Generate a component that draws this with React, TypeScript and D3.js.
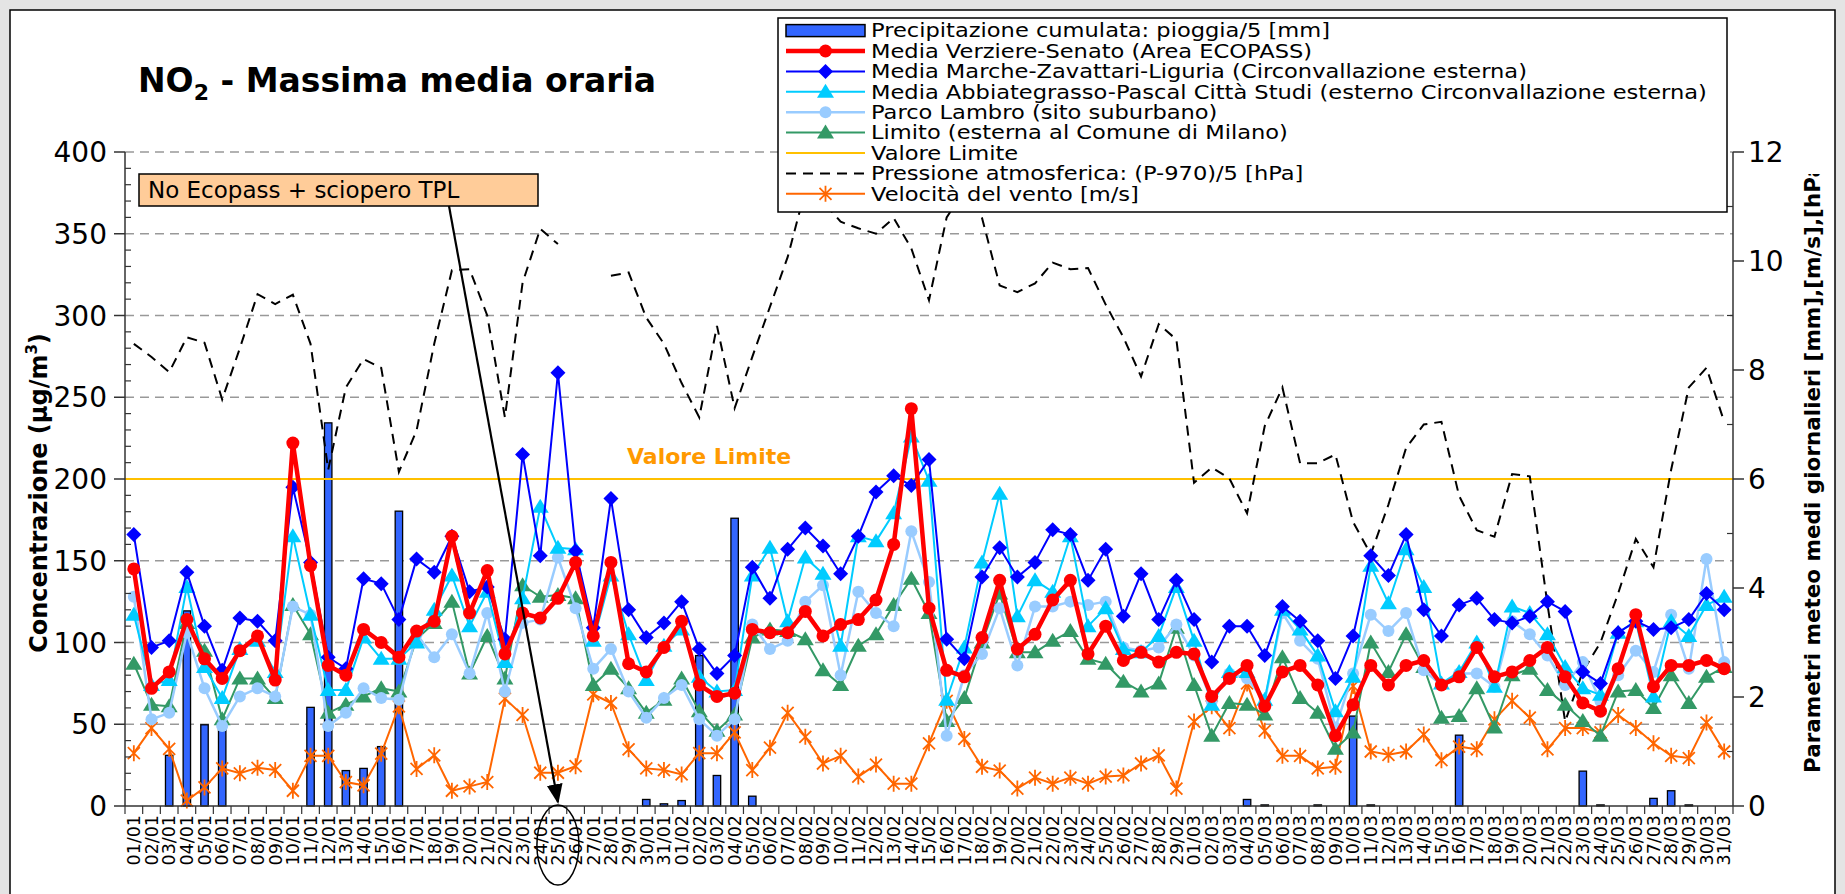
import React from "react";
import * as d3 from "d3";

// day labels shown on the category axis
const dates = [
  "01/01", "02/01", "03/01", "04/01", "05/01", "06/01", "07/01", "08/01", "09/01", "10/01",
  "11/01", "12/01", "13/01", "14/01", "15/01", "16/01", "17/01", "18/01", "19/01", "20/01",
  "21/01", "22/01", "23/01", "24/01", "25/01", "26/01", "27/01", "28/01", "29/01", "30/01",
  "31/01", "01/02", "02/02", "03/02", "04/02", "05/02", "06/02", "07/02", "08/02", "09/02",
  "10/02", "11/02", "12/02", "13/02", "14/02", "15/02", "16/02", "17/02", "18/02", "19/02",
  "20/02", "21/02", "22/02", "23/02", "24/02", "25/02", "26/02", "27/02", "28/02", "29/02",
  "01/03", "02/03", "03/03", "04/03", "05/03", "06/03", "07/03", "08/03", "09/03", "10/03",
  "11/03", "12/03", "13/03", "14/03", "15/03", "16/03", "17/03", "18/03", "19/03", "20/03",
  "21/03", "22/03", "23/03", "24/03", "25/03", "26/03", "27/03", "28/03", "29/03", "30/03",
  "31/03",
];

// precipitazione (pioggia/5, right axis)
const rain = [
  0, 0, 0.93, 3.58, 1.49, 1.41, 0, 0, 0, 0,
  1.81, 7.03, 0.65, 0.69, 1.09, 5.41, 0, 0, 0, 0,
  0, 0, 0, 0, 0, 0, 0, 0, 0, 0.12,
  0.04, 0.1, 2.76, 0.56, 5.28, 0.18, 0, 0, 0, 0,
  0, 0, 0, 0, 0, 0, 0, 0, 0, 0,
  0, 0, 0, 0, 0, 0, 0, 0, 0, 0,
  0, 0, 0, 0.12, 0.02, 0, 0, 0.02, 0, 1.65,
  0.02, 0, 0, 0, 0, 1.3, 0, 0, 0, 0,
  0, 0, 0.64, 0.02, 0, 0, 0.14, 0.28, 0.02, 0,
  0,
];

// NO2 series (left axis, ug/m3)
const verziere = [
  145, 72, 82, 114, 90, 78, 95, 104, 77, 222,
  147, 86, 80, 108, 100, 91, 107, 113, 165, 118,
  144, 93, 118, 115, 127, 149, 104, 149, 87, 82,
  97, 113, 74, 67, 69, 108, 106, 106, 119, 104,
  111, 114, 126, 160, 243, 121, 83, 79, 103, 138,
  96, 105, 126, 138, 93, 110, 89, 94, 88, 94,
  93, 67, 78, 86, 61, 82, 86, 74, 43, 62,
  86, 74, 86, 89, 74, 79, 97, 79, 82, 89,
  97, 79, 63, 58, 84, 117, 73, 86, 86, 89,
  84,
];
const marche = [
  166, 97, 101, 143, 110, 83, 115, 113, 101, 195,
  149, 91, 84, 139, 136, 114, 151, 143, 165, 131,
  134, 102, 215, 153, 265, 156, 109, 188, 120, 103,
  112, 125, 96, 81, 92, 146, 127, 157, 170, 159,
  142, 165, 192, 202, 196, 212, 102, 90, 140, 158,
  140, 149, 169, 166, 138, 157, 116, 142, 114, 138,
  114, 88, 110, 110, 92, 122, 113, 101, 78, 104,
  153, 141, 166, 120, 104, 123, 127, 114, 112, 116,
  125, 119, 82, 75, 106, 113, 108, 109, 114, 130,
  120,
];
const abbiategrasso = [
  117, 74, 77, 134, 85, 66, 96, 101, 82, 165,
  117, 71, 71, 103, 90, 90, 100, 120, 141, 110,
  131, 88, 127, 183, 158, 157, 101, 141, 105, 77,
  98, 108, 79, 70, 71, 141, 158, 113, 152, 142,
  98, 165, 162, 179, 226, 199, 65, 97, 149, 191,
  116, 138, 131, 165, 110, 121, 96, 94, 104, 134,
  101, 62, 82, 82, 65, 120, 108, 92, 58, 79,
  147, 124, 157, 134, 75, 82, 100, 73, 122, 118,
  105, 85, 72, 68, 106, 113, 67, 113, 104, 123,
  128,
];
const lambro = [
  128, 53, 57, 106, 72, 49, 67, 72, 67, 122,
  117, 49, 57, 72, 66, 65, 105, 91, 105, 81,
  118, 70, 112, 114, 152, 121, 84, 96, 70, 54,
  66, 74, 53, 43, 53, 111, 96, 101, 125, 135,
  80, 131, 118, 110, 168, 137, 43, 80, 93, 121,
  86, 122, 122, 125, 123, 125, 97, 95, 97, 111,
  92, 64, 81, 78, 64, 118, 101, 90, 48, 81,
  117, 107, 118, 83, 74, 81, 81, 73, 113, 105,
  92, 74, 88, 64, 80, 95, 82, 117, 84, 151,
  88,
];
const limito = [
  87, 62, 61, 112, 95, 53, 78, 78, 66, 123,
  105, 57, 62, 67, 72, 70, 102, 112, 125, 81,
  104, 78, 135, 128, 129, 127, 74, 84, 72, 57,
  65, 78, 58, 46, 56, 103, 108, 107, 102, 83,
  74, 98, 105, 123, 139, 118, 52, 66, 100, 130,
  94, 94, 101, 107, 90, 87, 76, 70, 75, 109,
  74, 43, 63, 62, 56, 91, 66, 57, 35, 45,
  100, 82, 105, 85, 54, 55, 72, 48, 80, 84,
  71, 62, 52, 43, 70, 71, 60, 80, 63, 79,
  85,
];

// meteo (right axis)
const pressure: (number | null)[] = [
  8.48, 8.24, 7.96, 8.6, 8.5, 7.46, 8.4, 9.39, 9.21, 9.38,
  8.48, 6.17, 7.68, 8.2, 8.04, 6.13, 6.89, 8.48, 9.83, 9.85,
  9.0, 7.13, 9.6, 10.59, 10.31, null, null, 9.73, 9.79, 8.96,
  8.48, 7.76, 7.13, 8.81, 7.3, 8.24, 9.16, 10.07, 11.3, 11.1,
  10.72, 10.6, 10.5, 10.79, 10.23, 9.28, 10.8, 11.3, 10.79, 9.55,
  9.43, 9.59, 9.97, 9.85, 9.87, 9.2, 8.6, 7.88, 8.84, 8.56,
  5.93, 6.21, 6.01, 5.37, 6.97, 7.68, 6.29, 6.29, 6.45, 5.21,
  4.62, 5.53, 6.57, 7.0, 7.05, 5.69, 5.06, 4.94, 6.09, 6.05,
  3.7, 1.55, 2.47, 3.0, 3.9, 4.9, 4.38, 6.17, 7.68, 8.04,
  7.05,
];
const wind = [
  0.97, 1.43, 1.05, 0.1, 0.34, 0.69, 0.6, 0.7, 0.66, 0.28,
  0.92, 0.92, 0.44, 0.38, 0.96, 1.83, 0.68, 0.93, 0.28, 0.36,
  0.44, 1.97, 1.67, 0.61, 0.61, 0.73, 2.05, 1.89, 1.04, 0.69,
  0.66, 0.58, 0.97, 0.97, 1.35, 0.66, 1.07, 1.71, 1.27, 0.78,
  0.92, 0.54, 0.76, 0.41, 0.41, 1.15, 1.93, 1.23, 0.72, 0.65,
  0.32, 0.52, 0.41, 0.52, 0.41, 0.54, 0.56, 0.78, 0.93, 0.32,
  1.55, 1.83, 1.43, 2.25, 1.38, 0.92, 0.92, 0.69, 0.72, 2.2,
  1.0, 0.94, 1.0, 1.31, 0.84, 1.09, 1.04, 1.59, 1.93, 1.62,
  1.04, 1.43, 1.43, 1.35, 1.67, 1.43, 1.15, 0.92, 0.88, 1.53,
  1.0,
];

const limitValue = 200;
const leftTicks = [0, 50, 100, 150, 200, 250, 300, 350, 400];
const rightTicks = [0, 2, 4, 6, 8, 10, 12];

const legendLabels = [
  "Precipitazione cumulata: pioggia/5 [mm]",
  "Media Verziere-Senato (Area ECOPASS)",
  "Media Marche-Zavattari-Liguria (Circonvallazione esterna)",
  "Media Abbiategrasso-Pascal Città Studi (esterno Circonvallazione esterna)",
  "Parco Lambro (sito suburbano)",
  "Limito (esterna al Comune di Milano)",
  "Valore Limite",
  "Pressione atmosferica: (P-970)/5 [hPa]",
  "Velocità del vento [m/s]",
];

const FONT = "'DejaVu Sans', Verdana, sans-serif";

function Marker({ kind, color, x, y }: { kind: string; color: string; x: number; y: number }) {
  if (kind === "circle") return <circle cx={x} cy={y} r={6} fill={color} />;
  if (kind === "bigcircle") return <circle cx={x} cy={y} r={6.5} fill={color} />;
  if (kind === "diamond")
    return <path d={`M${x},${y - 7.5}L${x + 7.5},${y}L${x},${y + 7.5}L${x - 7.5},${y}Z`} fill={color} />;
  if (kind === "triangle")
    return <path d={`M${x},${y - 8}L${x + 8.5},${y + 6}L${x - 8.5},${y + 6}Z`} fill={color} />;
  if (kind === "star")
    return (
      <path
        d={`M${x - 6},${y - 6}L${x + 6},${y + 6}M${x + 6},${y - 6}L${x - 6},${y + 6}M${x},${y - 8}L${x},${y + 8}`}
        stroke={color}
        strokeWidth={1.8}
        fill="none"
      />
    );
  return null;
}

export default function App() {
  const W = 1845;
  const H = 894;
  const left = 125;
  const right = 1733;
  const top = 152;
  const bottom = 806;

  const x = d3.scaleBand<string>().domain(dates).range([left, right]);
  const bw = x.bandwidth();
  const cx = (i: number) => (x(dates[i]) as number) + bw / 2;
  const y = d3.scaleLinear().domain([0, 400]).range([bottom, top]);
  const y2 = d3.scaleLinear().domain([0, 12]).range([bottom, top]);

  const lineL = d3
    .line<number>()
    .x((_, i) => cx(i))
    .y((d) => y(d));
  const lineR = d3
    .line<number | null>()
    .defined((d) => d != null)
    .x((_, i) => cx(i))
    .y((d) => y2(d as number));

  const no2 = [
    { data: limito, color: "#339966", width: 2, marker: "triangle" },
    { data: lambro, color: "#99ccff", width: 2.5, marker: "circle" },
    { data: abbiategrasso, color: "#00ccff", width: 2, marker: "triangle" },
    { data: marche, color: "#0000ff", width: 2, marker: "diamond" },
    { data: verziere, color: "#ff0000", width: 4.5, marker: "bigcircle" },
  ];

  const minorLeft = d3.range(10, 400, 10).filter((v) => v % 50 !== 0);
  const minorRight = d3.range(1, 12, 2);

  const legendX0 = 786;
  const legendX1 = 865;
  const legendRowY = (i: number) => 30.6 + i * 20.4;
  const legendSymbols = [
    { kind: "bar" },
    { kind: "line", color: "#ff0000", width: 4.5, marker: "bigcircle" },
    { kind: "line", color: "#0000ff", width: 2, marker: "diamond" },
    { kind: "line", color: "#00ccff", width: 2, marker: "triangle" },
    { kind: "line", color: "#99ccff", width: 2.5, marker: "circle" },
    { kind: "line", color: "#339966", width: 2, marker: "triangle" },
    { kind: "line", color: "#ffc000", width: 2, marker: "" },
    { kind: "dash" },
    { kind: "line", color: "#ff6600", width: 2, marker: "star" },
  ];

  const strikeIdx = dates.indexOf("25/01");

  return (
    <div style={{ position: "absolute", left: 0, top: 0 }}>
      <svg width={W} height={H} style={{ display: "block" }} fontFamily={FONT}>
        <defs>
          <marker id="arrowhead" viewBox="0 0 10 10" refX="9" refY="5" markerWidth="9" markerHeight="9" orient="auto">
            <path d="M0,1L10,5L0,9Z" fill="#000" />
          </marker>
          <clipPath id="rclip">
            <rect x={1780} y={174} width={60} height={700} />
          </clipPath>
        </defs>

        {/* slide background and chart frame */}
        <rect x={0} y={0} width={W} height={H} fill="#e4e4e4" />
        <rect x={10} y={10} width={W - 20} height={H} fill="#ffffff" stroke="#000" strokeWidth={1.5} />

        {/* title */}
        <text x={138} y={92} fontSize={33} fontWeight="bold">
          NO<tspan fontSize={22} dy={8}>2</tspan>
          <tspan dy={-8}> - Massima media oraria</tspan>
        </text>

        {/* gridlines */}
        {leftTicks
          .filter((t) => t > 0)
          .map((t) => (
            <line key={"g" + t} x1={left} x2={right} y1={y(t)} y2={y(t)} stroke="#999" strokeWidth={1.3} strokeDasharray="9,6" />
          ))}

        {/* rain bars */}
        {rain.map((v, i) =>
          v > 0 ? (
            <rect
              key={"r" + i}
              x={cx(i) - bw * 0.21}
              y={y2(v)}
              width={bw * 0.42}
              height={bottom - y2(v)}
              fill="#3366ff"
              stroke="#000"
              strokeWidth={1.3}
            />
          ) : null
        )}

        {/* limit line */}
        <line x1={left} x2={right} y1={y(limitValue)} y2={y(limitValue)} stroke="#ffc000" strokeWidth={2} />
        <text x={627} y={y(limitValue) - 15} fontSize={22} fontWeight="bold" fill="#ff9900">
          Valore Limite
        </text>

        {/* pressure */}
        <path d={lineR(pressure) || ""} fill="none" stroke="#000" strokeWidth={2} strokeDasharray="10,7" />

        {/* wind */}
        <path d={lineR(wind) || ""} fill="none" stroke="#ff6600" strokeWidth={2} />
        {wind.map((v, i) => (
          <Marker key={"w" + i} kind="star" color="#ff6600" x={cx(i)} y={y2(v)} />
        ))}

        {/* NO2 series */}
        {no2.map((s, k) => (
          <g key={"s" + k}>
            <path d={lineL(s.data) || ""} fill="none" stroke={s.color} strokeWidth={s.width} strokeLinejoin="round" />
            {s.data.map((v, i) => (
              <Marker key={i} kind={s.marker} color={s.color} x={cx(i)} y={y(v)} />
            ))}
          </g>
        ))}

        {/* left axis */}
        <line x1={left} x2={left} y1={top} y2={bottom} stroke="#333" strokeWidth={1.5} />
        {leftTicks.map((t) => (
          <g key={"lt" + t}>
            <line x1={left - 11} x2={left} y1={y(t)} y2={y(t)} stroke="#333" strokeWidth={1.5} />
            <text x={left - 18} y={y(t)} dy="0.36em" textAnchor="end" fontSize={28}>
              {t}
            </text>
          </g>
        ))}
        {minorLeft.map((t) => (
          <line key={"lm" + t} x1={left} x2={left + 6} y1={y(t)} y2={y(t)} stroke="#333" strokeWidth={1.2} />
        ))}

        {/* right axis */}
        <line x1={right} x2={right} y1={top} y2={bottom} stroke="#333" strokeWidth={1.5} />
        {rightTicks.map((t) => (
          <g key={"rt" + t}>
            <line x1={right} x2={right + 11} y1={y2(t)} y2={y2(t)} stroke="#333" strokeWidth={1.5} />
            <text x={right + 15} y={y2(t)} dy="0.36em" textAnchor="start" fontSize={28}>
              {t}
            </text>
          </g>
        ))}
        {minorRight.map((t) => (
          <line key={"rm" + t} x1={right - 6} x2={right} y1={y2(t)} y2={y2(t)} stroke="#333" strokeWidth={1.2} />
        ))}

        {/* category axis */}
        <line x1={left} x2={right} y1={bottom} y2={bottom} stroke="#333" strokeWidth={1.5} />
        {dates.map((d, i) => (
          <g key={"xt" + d}>
            <line x1={x(d) as number} x2={x(d) as number} y1={bottom} y2={bottom + 8} stroke="#333" strokeWidth={1.2} />
            <text
              transform={`translate(${cx(i)},${bottom + 9}) rotate(-90)`}
              dy="0.36em"
              textAnchor="end"
              fontSize={17.5}
            >
              {d}
            </text>
          </g>
        ))}
        <line x1={right} x2={right} y1={bottom} y2={bottom + 8} stroke="#333" strokeWidth={1.2} />

        {/* axis titles */}
        <text transform={`translate(38,493) rotate(-90)`} dy="0.36em" textAnchor="middle" fontSize={24} fontWeight="bold">
          Concentrazione (µg/m<tspan fontSize={15} dy={-10}>3</tspan>
          <tspan dy={10}>)</tspan>
        </text>
        <g clipPath="url(#rclip)">
          <text transform={`translate(1812,773) rotate(-90)`} dy="0.36em" textAnchor="start" fontSize={21.5} fontWeight="bold">
            Parametri meteo medi giornalieri [mm],[m/s],[hPa]
          </text>
        </g>

        {/* annotation */}
        <rect x={139} y={174} width={399} height={32} fill="#ffcc99" stroke="#000" strokeWidth={1.5} />
        <text x={148} y={190} dy="0.36em" fontSize={23}>
          No Ecopass + sciopero TPL
        </text>
        <line x1={449} y1={206} x2={cx(strikeIdx)} y2={bottom - 4} stroke="#000" strokeWidth={2.2} markerEnd="url(#arrowhead)" />
        <ellipse cx={cx(strikeIdx)} cy={845} rx={21} ry={40} fill="none" stroke="#000" strokeWidth={1.5} />

        {/* legend */}
        <rect x={778} y={18} width={949} height={194} fill="#fff" stroke="#000" strokeWidth={1.5} />
        {legendSymbols.map((s, i) => {
          const ly = legendRowY(i);
          const mx = (legendX0 + legendX1) / 2;
          return (
            <g key={"lg" + i}>
              {s.kind === "bar" && (
                <rect x={legendX0} y={ly - 6} width={legendX1 - legendX0} height={12} fill="#3366ff" stroke="#000" strokeWidth={1.5} />
              )}
              {s.kind === "dash" && (
                <line x1={legendX0} x2={legendX1} y1={ly} y2={ly} stroke="#000" strokeWidth={2} strokeDasharray="10,7" />
              )}
              {s.kind === "line" && (
                <>
                  <line x1={legendX0} x2={legendX1} y1={ly} y2={ly} stroke={s.color} strokeWidth={s.width} />
                  {s.marker && <Marker kind={s.marker as string} color={s.color as string} x={mx} y={ly} />}
                </>
              )}
              <text transform={`translate(871,${ly}) scale(1.2,1)`} dy="0.36em" fontSize={18.8}>
                {legendLabels[i]}
              </text>
            </g>
          );
        })}
      </svg>
    </div>
  );
}
